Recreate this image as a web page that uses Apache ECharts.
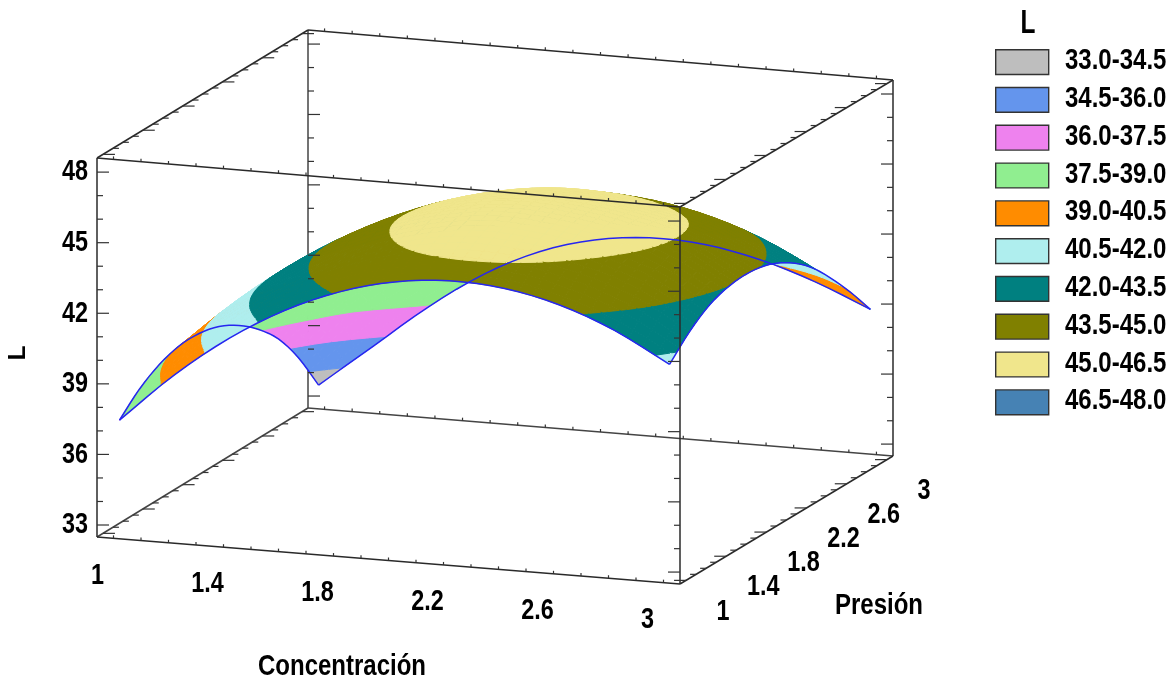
<!DOCTYPE html>
<html><head><meta charset="utf-8">
<style>html,body{margin:0;padding:0;background:#fff}#c{width:1171px;height:681px}</style>
<script src="https://cdn.jsdelivr.net/npm/echarts@6/dist/echarts.min.js"></script>
</head><body><div id="c"></div>
<script>
// ---------- data ----------
const concentracion = [1,1.2,1.4,1.6,1.8,2,2.2,2.4,2.6,2.8,3];
const L_p10 = [37.36,39.48,41.23,42.60,43.59,44.21,44.45,44.32,43.81,42.92,41.66];
const L_p12 = [38.16,40.26,41.99,43.34,44.36,45.00,45.25,45.12,44.65,43.85,42.55];
const L_p14 = [38.69,40.77,42.49,43.83,44.84,45.50,45.78,45.62,45.19,44.48,43.18];
const L_p16 = [38.97,41.02,42.73,44.08,45.08,45.73,46.02,45.88,45.46,44.78,43.49];
const L_p18 = [38.98,41.03,42.73,44.07,45.07,45.74,46.02,45.89,45.49,44.82,43.55];
const L_p20 = [38.76,40.80,42.48,43.82,44.83,45.49,45.79,45.66,45.26,44.62,43.37];
const L_p22 = [38.29,40.33,42.02,43.34,44.33,45.00,45.30,45.18,44.80,44.12,42.92];
const L_p24 = [37.60,39.63,41.30,42.64,43.64,44.28,44.58,44.54,44.15,43.39,42.23];
const L_p26 = [36.67,38.70,40.38,41.71,42.70,43.33,43.62,43.57,43.16,42.40,41.25];
const L_p28 = [35.35,37.55,39.23,40.57,41.56,42.20,42.49,42.43,42.03,41.25,40.12];
const L_p30 = [33.68,35.55,37.42,39.00,40.15,40.85,41.14,41.05,40.60,39.85,38.87];
const surfaceRows = [L_p10,L_p12,L_p14,L_p16,L_p18,L_p20,L_p22,L_p24,L_p26,L_p28,L_p30];
const presion = [1,1.2,1.4,1.6,1.8,2,2.2,2.4,2.6,2.8,3];
const concTicks = ['1','1.4','1.8','2.2','2.6','3'];
const presTicks = ['1','1.4','1.8','2.2','2.6','3'];
const lTicks = ['33','36','39','42','45','48'];
const bandEdges = [33,34.5,36,37.5,39,40.5,42,43.5,45,46.5,48];
const bandNames = ['33.0-34.5','34.5-36.0','36.0-37.5','37.5-39.0','39.0-40.5','40.5-42.0','42.0-43.5','43.5-45.0','45.0-46.5','46.5-48.0'];
const bandColors = ['#BEBEBE','#6495ED','#EE82EE','#90EE90','#FF8C00','#AFEEEE','#008080','#808000','#F0E68C','#4682B4'];

// ---------- view: box limits and where the box corners fall on the page ----------
const cRange=[0.94,3.06], pRange=[0.94,3.06], lRange=[32.49,48.6];
const FONT="'Liberation Sans',Arial,sans-serif";
const corners={ // [u,v,w]
 '000':[97,537],'100':[680,584],'010':[308,408],'110':[893,456],
 '001':[97,158],'101':[680,207],'011':[308,30],'111':[893,80]};
function project(c,p,l){
  const u=(c-cRange[0])/(cRange[1]-cRange[0]),v=(p-pRange[0])/(pRange[1]-pRange[0]),w=(l-lRange[0])/(lRange[1]-lRange[0]);
  const mix=(i)=>{
    const b=(1-u)*(1-v)*corners['000'][i]+u*(1-v)*corners['100'][i]+(1-u)*v*corners['010'][i]+u*v*corners['110'][i];
    const t=(1-u)*(1-v)*corners['001'][i]+u*(1-v)*corners['101'][i]+(1-u)*v*corners['011'][i]+u*v*corners['111'][i];
    return b+(t-b)*w;};
  return [mix(0),mix(1)];
}
// ---------- smooth tessellation of the read grid ----------
const SUB=4;
function refine(a){
  const out=[],n=a.length;
  for(let i=0;i<n-1;i++){
    const p0=i>0?a[i-1]:2*a[0]-a[1],p1=a[i],p2=a[i+1],p3=i<n-2?a[i+2]:2*a[n-1]-a[n-2];
    for(let k=0;k<SUB;k++){const t=k/SUB;
      out.push(0.5*(2*p1+(p2-p0)*t+(2*p0-5*p1+4*p2-p3)*t*t+(3*p1-p0-3*p2+p3)*t*t*t));}
  }
  out.push(a[n-1]);return out;
}
const fineC=concentracion.flatMap((v,i)=>i<concentracion.length-1?[0,1,2,3].map(k=>v+(concentracion[i+1]-v)*k/SUB):[v]);
const fineP=presion.flatMap((v,i)=>i<presion.length-1?[0,1,2,3].map(k=>v+(presion[i+1]-v)*k/SUB):[v]);
const rowsC=surfaceRows.map(refine);
const colsFine=fineC.map((_,j)=>refine(rowsC.map(r=>r[j])));
const Z=fineP.map((_,i)=>fineC.map((_,j)=>colsFine[j][i]));

function clip(poly,level,keepAbove){
  const out=[];
  for(let i=0;i<poly.length;i++){
    const a=poly[i],b=poly[(i+1)%poly.length];
    const ina=keepAbove?a[2]>=level:a[2]<=level,inb=keepAbove?b[2]>=level:b[2]<=level;
    if(ina)out.push(a);
    if(ina!==inb){const t=(level-a[2])/(b[2]-a[2]);
      out.push([a[0]+(b[0]-a[0])*t,a[1]+(b[1]-a[1])*t,level]);}
  }
  return out;
}
// painter order: farthest cell (low concentration, high pressure) first
const pieces=[];
for(let i=fineP.length-2;i>=0;i--){
  for(let j=0;j<fineC.length-1;j++){
    const quad=[[fineC[j],fineP[i],Z[i][j]],[fineC[j+1],fineP[i],Z[i][j+1]],[fineC[j+1],fineP[i+1],Z[i+1][j+1]],[fineC[j],fineP[i+1],Z[i+1][j]]];
    for(let b=0;b<bandNames.length;b++){
      let poly=clip(quad,bandEdges[b],true);
      if(poly.length)poly=clip(poly,bandEdges[b+1],false);
      if(poly.length>2)pieces.push({pts:poly,b});
    }
  }
}
// ---------- box edges and ticks ----------
const [c0,c1]=cRange,[p0,p1]=pRange,[l0,l1]=lRange;
const backLines=[[[c0,p1,l0],[c0,p1,l1]],[[c1,p1,l0],[c0,p1,l0]],[[c0,p1,l0],[c0,p0,l0]]];
const frontLines=[
 [[c0,p0,l0],[c0,p0,l1]],[[c1,p0,l0],[c1,p0,l1]],[[c1,p1,l0],[c1,p1,l1]],
 [[c0,p0,l0],[c1,p0,l0]],[[c1,p0,l0],[c1,p1,l0]],
 [[c0,p0,l1],[c1,p0,l1]],[[c1,p0,l1],[c1,p1,l1]],[[c1,p1,l1],[c0,p1,l1]],[[c0,p1,l1],[c0,p0,l1]]];
const ticks=[];
for(let l=33;l<=48;l++){
  const len=(l%3===0)?12:6;
  ticks.push({a:[c0,p0,l],dx:len,dy:0},{a:[c0,p1,l],dx:len,dy:0},{a:[c1,p0,l],dx:-len,dy:0},{a:[c1,p1,l],dx:-len,dy:0});
}
for(let n=0;n<=20;n++){
  const v=1+n/10,major=n%4===0,len=major?12:6;
  [l0,l1].forEach(l=>{
    ticks.push({a:[v,p0,l],dx:0,dy:-3},{a:[v,p1,l],dx:0,dy:-3});
    ticks.push({a:[c0,v,l],dx:len,dy:0},{a:[c1,v,l],dx:-len,dy:0});
  });
}
// surface border polylines
const outlines=[
 fineC.map((c,j)=>[c,fineP[0],Z[0][j]]),
 fineC.map((c,j)=>[c,fineP[fineP.length-1],Z[fineP.length-1][j]]),
 fineP.map((p,i)=>[fineC[0],p,Z[i][0]]),
 fineP.map((p,i)=>[fineC[fineC.length-1],p,Z[i][fineC.length-1]])];

function lineRender(list,color,width){
  return function(params,api){
    const s=list[api.value(0)];
    const a=api.coord(project(...s[0])),b=api.coord(project(...s[1]));
    return {type:'line',shape:{x1:a[0],y1:a[1],x2:b[0],y2:b[1]},style:{stroke:color,lineWidth:width,fill:null},silent:true};
  };
}
const idx=a=>a.map((_,i)=>[i]);
const base={type:'custom',coordinateSystem:'cartesian2d',clip:false,silent:true,animation:false,progressive:0,encode:{x:0,y:0},legendHoverLink:false};
const labels=[];
concTicks.forEach(t=>{const v=+t;labels.push({text:t,anchor:[v,p0,l0],ox:-16,oy:37,align:'center'});});
presTicks.forEach(t=>{const v=+t;labels.push({text:t,anchor:[c1,v,l0],ox:37,oy:31,align:'center'});});
lTicks.forEach(t=>{labels.push({text:t,anchor:[c0,p0,+t],ox:-9,oy:0,align:'right'});});

const series=[
 Object.assign({},base,{name:'boxBack',z:1,data:idx(backLines),renderItem:lineRender(backLines,'#444',1.5)}),
 Object.assign({},base,{name:'surface',z:2,data:idx(pieces),renderItem:function(params,api){
   const pc=pieces[api.value(0)];
   const pts=pc.pts.map(q=>api.coord(project(q[0],q[1],q[2])));
   const col=bandColors[pc.b];
   return {type:'polygon',shape:{points:pts},style:{fill:col,stroke:col,lineWidth:1},silent:true};
 }}),
 Object.assign({},base,{name:'outline',z:3,data:idx(outlines),renderItem:function(params,api){
   const pts=outlines[api.value(0)].map(q=>api.coord(project(q[0],q[1],q[2])));
   return {type:'polyline',shape:{points:pts},style:{stroke:'#2626f0',lineWidth:1.5,fill:null},silent:true};
 }}),
 Object.assign({},base,{name:'box',z:4,data:idx(frontLines),renderItem:lineRender(frontLines,'#2a2a2a',1.5)}),
 Object.assign({},base,{name:'ticks',z:4,data:idx(ticks),renderItem:function(params,api){
   const t=ticks[api.value(0)],a=api.coord(project(...t.a));
   return {type:'line',shape:{x1:a[0],y1:a[1],x2:a[0]+t.dx,y2:a[1]+t.dy},style:{stroke:'#333',lineWidth:1.2},silent:true};
 }}),
 Object.assign({},base,{name:'tickLabels',z:5,data:idx(labels),renderItem:function(params,api){
   const t=labels[api.value(0)],a=api.coord(project(...t.anchor));
   return {type:'text',x:a[0]+t.ox,y:a[1]+t.oy,scaleX:0.78,style:{text:t.text,fill:'#000',font:"bold 30px "+FONT,align:t.align,verticalAlign:'middle'},silent:true};
 }})
];
bandNames.forEach((n,i)=>series.push({type:'custom',name:n,coordinateSystem:'cartesian2d',data:[],itemStyle:{color:bandColors[i]},renderItem:function(){return null;}}));

const chart=echarts.init(document.getElementById('c'),null,{renderer:'canvas'});
const legendLabels=bandNames.map((n,i)=>({type:'text',x:1065,y:61+37.8*i,scaleX:0.8,style:{text:n,font:"bold 30px "+FONT,fill:'#000',align:'left',verticalAlign:'middle'}}));
chart.setOption({
 animation:false,backgroundColor:'#fff',
 grid:{left:0,top:0,right:0,bottom:0,containLabel:false},
 xAxis:{type:'value',min:0,max:1171,show:false},
 yAxis:{type:'value',min:0,max:681,inverse:true,show:false},
 graphic:[
  {type:'text',x:1028,y:24,scaleX:0.74,style:{text:'L',font:"bold 33px "+FONT,fill:'#000',align:'center',verticalAlign:'middle'}},
  {type:'text',x:342,y:667,scaleX:0.8,style:{text:'Concentración',font:"bold 30px "+FONT,fill:'#000',align:'center',verticalAlign:'middle'}},
  {type:'text',x:879,y:606,scaleX:0.8,style:{text:'Presión',font:"bold 30px "+FONT,fill:'#000',align:'center',verticalAlign:'middle'}},
  {type:'text',x:18,y:353,rotation:Math.PI/2,style:{text:'L',font:"bold 24px "+FONT,fill:'#000',align:'center',verticalAlign:'middle'}}
 ].concat(legendLabels),
 legend:{show:true,orient:'vertical',left:990,top:44,itemWidth:53,itemHeight:24.8,itemGap:11.6,icon:'rect',selectedMode:false,
  formatter:function(){return ' ';},
  data:bandNames.map((n,i)=>({name:n,itemStyle:{color:bandColors[i],borderColor:'#333',borderWidth:1.4}})),
  textStyle:{fontSize:12,color:'#000'}},
 series
});
</script></body></html>
